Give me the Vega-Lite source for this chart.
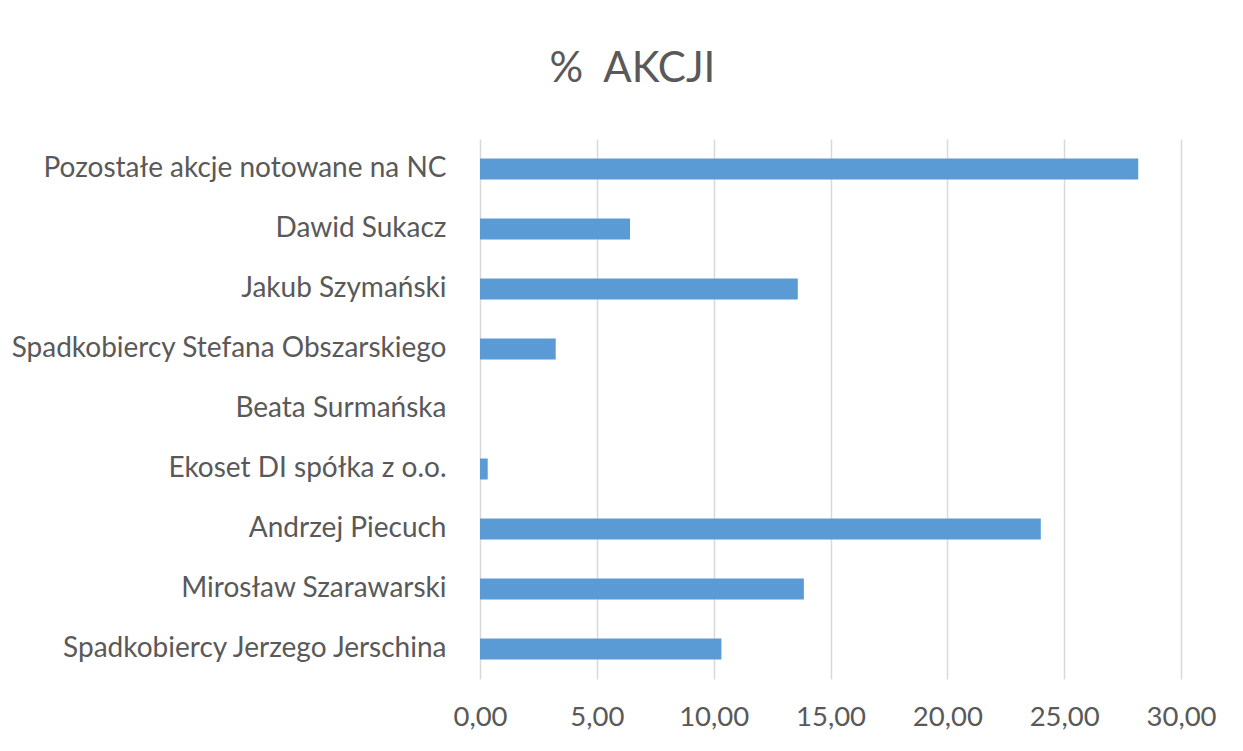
{
  "$schema": "https://vega.github.io/schema/vega-lite/v6.json",
  "width": 701,
  "height": 540,
  "autosize": {"type": "none"},
  "padding": {"left": 480, "top": 139, "right": 62, "bottom": 72},
  "background": "white",
  "title": {
    "text": "% \u00a0AKCJI",
    "anchor": "middle",
    "dx": -198,
    "offset": 48,
    "fontSize": 42,
    "font": "Lato",
    "fontWeight": "normal",
    "color": "#595959"
  },
  "data": {
    "values": [
      {"holder": "Pozostałe akcje notowane na NC", "pct": 28.17},
      {"holder": "Dawid Sukacz", "pct": 6.42},
      {"holder": "Jakub Szymański", "pct": 13.6},
      {"holder": "Spadkobiercy Stefana Obszarskiego", "pct": 3.24},
      {"holder": "Beata Surmańska", "pct": 0.0},
      {"holder": "Ekoset DI spółka z o.o.", "pct": 0.33},
      {"holder": "Andrzej Piecuch", "pct": 24.0},
      {"holder": "Mirosław Szarawarski", "pct": 13.86},
      {"holder": "Spadkobiercy Jerzego Jerschina", "pct": 10.33}
    ]
  },
  "mark": {"type": "bar", "color": "#5B9BD5"},
  "encoding": {
    "y": {
      "field": "holder",
      "type": "nominal",
      "sort": null,
      "scale": {"paddingInner": 0.65, "paddingOuter": 0.325},
      "axis": {
        "title": null,
        "ticks": false,
        "domain": false,
        "grid": false,
        "labelFont": "Lato",
        "labelFontSize": 28,
        "labelColor": "#595959",
        "labelPadding": 34,
        "labelLimit": 600
      }
    },
    "x": {
      "field": "pct",
      "type": "quantitative",
      "scale": {"domain": [0, 30], "nice": false},
      "axis": {
        "title": null,
        "values": [0, 5, 10, 15, 20, 25, 30],
        "labelExpr": "replace(format(datum.value, '.2f'), '.', ',')",
        "labelFlush": false,
        "labelOverlap": false,
        "ticks": false,
        "domain": false,
        "grid": true,
        "gridColor": "#d9d9d9",
        "gridWidth": 1.5,
        "labelFont": "Lato",
        "labelFontSize": 27.5,
        "labelColor": "#595959",
        "labelPadding": 24
      }
    }
  },
  "config": {"view": {"stroke": null}}
}
